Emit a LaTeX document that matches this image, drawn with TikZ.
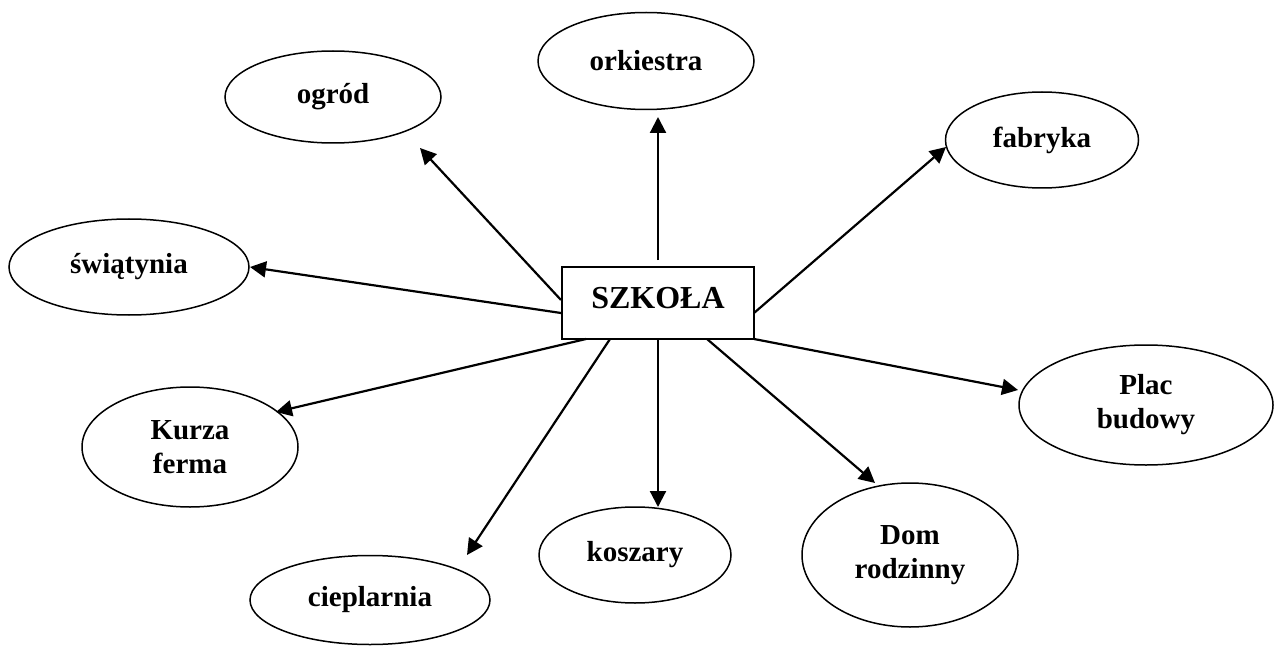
\documentclass[tikz,border=0pt]{standalone}
\usepackage{fontspec}
\setmainfont{Liberation Serif}
\usetikzlibrary{shapes.geometric,arrows.meta,calc}
\tikzset{
  bubble/.style={draw, ellipse, line width=1.5pt, inner sep=0pt, align=center,
    font=\fontsize{29}{34}\selectfont\bfseries},
  hub/.style={draw, rectangle, line width=1.8pt, inner sep=0pt,
    minimum width=192pt, text height=41pt, text depth=31pt,
    font=\fontsize{32}{38}\selectfont\bfseries},
  arr/.style={line width=2.2pt, -{Triangle[length=16pt,width=16pt]}}
}
\begin{document}
\begin{tikzpicture}[x=1pt,y=-1pt]
\useasboundingbox (0,0) rectangle (1274,647);
\node[hub] (szkola) at (658,303) {SZKOŁA};
\node[bubble, minimum width=216pt, minimum height=92pt] (ogrod) at (333,97) {ogród};
\node[bubble, minimum width=216pt, minimum height=97pt] (orkiestra) at (646,61) {orkiestra};
\node[bubble, minimum width=193pt, minimum height=96pt] (fabryka) at (1042,140) {fabryka};
\node[bubble, minimum width=240pt, minimum height=96pt] (swiatynia) at (129,267) {świątynia};
\node[bubble, minimum width=216pt, minimum height=120pt] (kurza) at (190,447) {Kurza\\ferma};
\node[bubble, minimum width=240pt, minimum height=89pt] (cieplarnia) at (370,600) {cieplarnia};
\node[bubble, minimum width=192pt, minimum height=96pt] (koszary) at (635,555) {\raisebox{3pt}{koszary}};
\node[bubble, minimum width=216pt, minimum height=144pt] (dom) at (910,555) {Dom\\rodzinny};
\node[bubble, minimum width=254pt, minimum height=120pt] (plac) at (1146,405) {Plac\\budowy};

\draw[arr] ($(szkola)+(-97,-3)$) -- ($(ogrod)+(87,51)$);
\draw[arr] ($(szkola)+(0,-43)$) -- ($(orkiestra)+(12,56)$);
\draw[arr] ($(szkola)+(96,10)$) -- ($(fabryka)+(-96,7)$);
\draw[arr] ($(szkola)+(-97,10)$) -- ($(swiatynia)+(121,0)$);
\draw[arr] ($(szkola)+(-72,36)$) -- ($(kurza)+(86,-35)$);
\draw[arr] ($(szkola)+(-48,36)$) -- ($(cieplarnia)+(97,-45)$);
\draw[arr] ($(szkola)+(0,36)$) -- ($(koszary)+(23,-48)$);
\draw[arr] ($(szkola)+(49,36)$) -- ($(dom)+(-35,-72)$);
\draw[arr] ($(szkola)+(96,36)$) -- ($(plac)+(-128,-15)$);
\end{tikzpicture}
\end{document}
